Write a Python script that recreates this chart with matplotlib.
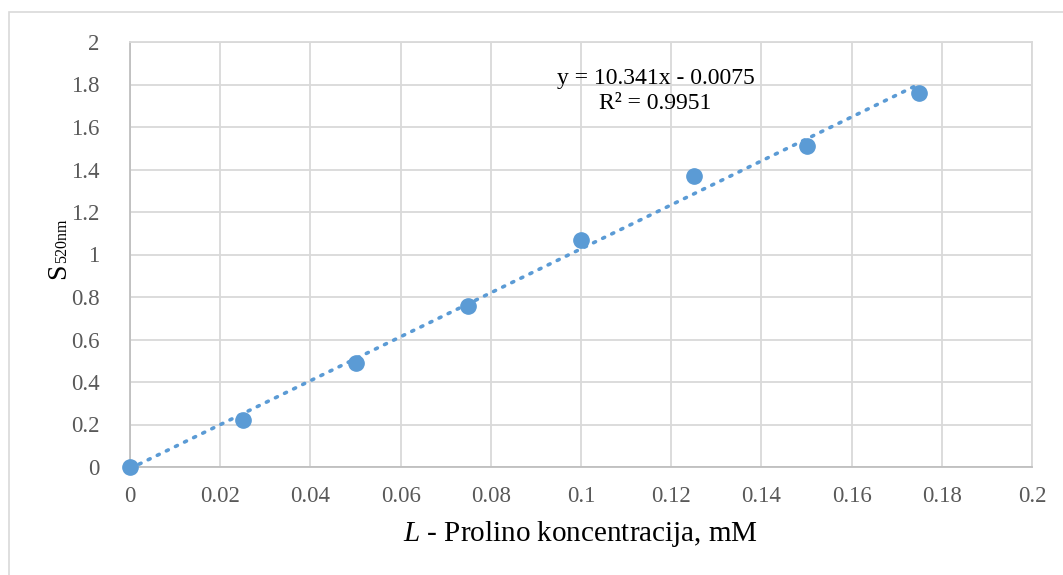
import matplotlib
matplotlib.use("Agg")
import matplotlib.pyplot as plt
import numpy as np
from matplotlib.patches import Rectangle

plt.rcParams['font.family'] = ['Liberation Serif', 'DejaVu Serif']
plt.rcParams['mathtext.fontset'] = 'custom'
plt.rcParams['mathtext.rm'] = 'Liberation Serif'
plt.rcParams['mathtext.it'] = 'Liberation Serif:italic'

# Data
concentration = [0.0, 0.025, 0.05, 0.075, 0.1, 0.125, 0.15, 0.175]
absorbance = [0.0, 0.22, 0.49, 0.76, 1.07, 1.37, 1.51, 1.76]
trend_slope = 10.341
trend_intercept = -0.0075
r_squared = 0.9951
x_ticks = [0, 0.02, 0.04, 0.06, 0.08, 0.1, 0.12, 0.14, 0.16, 0.18, 0.2]
x_tick_labels = ["0", "0.02", "0.04", "0.06", "0.08", "0.1", "0.12", "0.14", "0.16", "0.18", "0.2"]
y_ticks = [0, 0.2, 0.4, 0.6, 0.8, 1, 1.2, 1.4, 1.6, 1.8, 2]
y_tick_labels = ["0", "0.2", "0.4", "0.6", "0.8", "1", "1.2", "1.4", "1.6", "1.8", "2"]

W, H = 1063, 575
fig = plt.figure(figsize=(W / 100, H / 100), dpi=100)
fig.patch.set_facecolor('white')

# outer chart frame
fig.patches.append(Rectangle((9 / W, -0.05), 1.1, (H - 12) / H + 0.05, transform=fig.transFigure,
                             fill=False, edgecolor='#D9D9D9', linewidth=1.2, zorder=0))

ax = fig.add_axes([130 / W, 1 - 467 / H, (1032 - 130) / W, (467 - 42) / H])
ax.set_xlim(0, 0.2)
ax.set_ylim(0, 2)
ax.set_xticks(x_ticks)
ax.set_xticklabels(x_tick_labels)
ax.set_yticks(y_ticks)
ax.set_yticklabels(y_tick_labels)
ax.tick_params(length=0, labelsize=16.5, colors='#595959', pad=14)
ax.tick_params(axis='y', pad=22)
ax.grid(True, color='#D9D9D9', linewidth=1.3)
ax.set_axisbelow(True)
for s in ['top', 'right']:
    ax.spines[s].set_color('#D9D9D9')
    ax.spines[s].set_linewidth(1.3)
for s in ['left', 'bottom']:
    ax.spines[s].set_color('#BFBFBF')
    ax.spines[s].set_linewidth(1.3)

# trendline
xt = np.array([concentration[0], concentration[-1]])
ax.plot(xt, trend_slope * xt + trend_intercept, linestyle=(0, (0.6, 2.2)), color='#5B9BD5',
        linewidth=2.6, dash_capstyle='round', zorder=3, clip_on=False)
ax.plot(concentration, absorbance, 'o', color='#5B9BD5', markersize=11, zorder=4, clip_on=False)

ax.text(0.1165, 1.77, f"y = {trend_slope}x - {abs(trend_intercept)}\nR² = {r_squared}",
        ha='center', va='center', fontsize=17, color='black', linespacing=1.22)

ax.set_xlabel(r"$\mathit{L}$ - Prolino koncentracija, mM", fontsize=21, color='black', labelpad=8)

# y label: "S" with small subscript "520nm"
fig.text(65 / W, 1 - 279 / H, "S", rotation=90, rotation_mode='anchor', ha='left', va='baseline',
         fontsize=20, color='black')
fig.text(66 / W, 1 - 263 / H, "520nm", rotation=90, rotation_mode='anchor', ha='left', va='baseline',
         fontsize=11.5, color='black')

fig.savefig("out.png", dpi=100, facecolor='white')
